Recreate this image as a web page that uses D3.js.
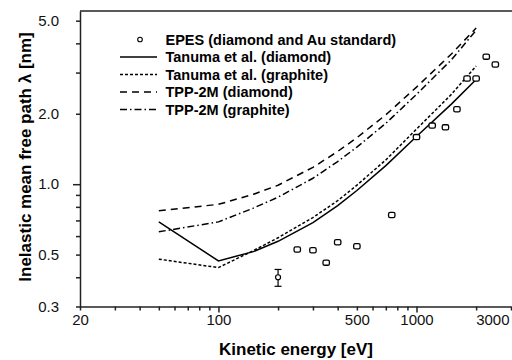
<!DOCTYPE html>
<html>
<head>
<meta charset="utf-8">
<script src="https://cdn.jsdelivr.net/npm/d3@7"></script>
<style>
  body { margin: 0; background: #fff; }
  svg { display: block; font-family: 'Liberation Sans', Arial, Helvetica, sans-serif; }
</style>
</head>
<body>
<div id="chart"></div>
<script>
// data
var curveEnergy = [50, 100, 150, 200, 300, 400, 500, 700, 1000, 1500, 2000];
var tanumaDiamond = [0.69, 0.47, 0.515, 0.57, 0.685, 0.81, 0.94, 1.2, 1.6, 2.2, 2.8];
var tanumaGraphite = [0.478, 0.44, 0.52, 0.59, 0.72, 0.85, 0.99, 1.27, 1.72, 2.42, 3.2];
var tppDiamond = [0.77, 0.82, 0.905, 0.99, 1.18, 1.38, 1.58, 1.98, 2.6, 3.6, 4.65];
var tppGraphite = [0.626, 0.69, 0.79, 0.88, 1.06, 1.25, 1.44, 1.82, 2.42, 3.4, 4.55];

// EPES points (first one is the circle with error bar)
var epesEnergy = [200, 250, 300, 350, 400, 500, 750, 1000, 1200, 1400, 1600, 1800, 2000, 2250, 2500];
var epesImfp = [0.40, 0.526, 0.522, 0.462, 0.565, 0.543, 0.738, 1.59, 1.78, 1.75, 2.09, 2.83, 2.83, 3.51, 3.25];
var epesErrLow = [0.366];
var epesErrHigh = [0.432];

var xTicks = [20, 30, 40, 50, 60, 70, 80, 90, 100, 200, 300, 400, 500, 600, 700, 800, 900, 1000, 2000, 3000];
var xLabels = [20, 100, 500, 1000, 3000];
var yTicks = [0.3, 0.4, 0.5, 0.6, 0.7, 0.8, 0.9, 1, 2, 3, 4, 5];
var yLabels = [0.3, 0.5, 1, 2, 5];

var seriesNames = ['Tanuma et al. (diamond)', 'Tanuma et al. (graphite)', 'TPP-2M (diamond)', 'TPP-2M (graphite)'];
var seriesValues = [tanumaDiamond, tanumaGraphite, tppDiamond, tppGraphite];
var seriesDash = [null, '3,2', '7,5', '7,3,1.5,3'];

var W = 512, H = 360;
var svg = d3.select('#chart').append('svg')
    .attr('width', W)
    .attr('height', H);

var x = d3.scaleLog().domain([20, 3000]).range([80, 511]);
var y = d3.scaleLog().domain([0.3, 5.5]).range([306.5, 11]);

// axes
var x_axis = d3.axisBottom(x)
    .tickValues(xTicks)
    .tickSizeInner(4)
    .tickSizeOuter(0)
    .tickPadding(4)
    .tickFormat(function (d) { return xLabels.indexOf(d) >= 0 ? d : ''; });

var y_axis = d3.axisLeft(y)
    .tickValues(yTicks)
    .tickSizeInner(4)
    .tickSizeOuter(0)
    .tickPadding(17)
    .tickFormat(function (d) { return yLabels.indexOf(d) >= 0 ? d3.format('.1f')(d) : ''; });

var gx = svg.append('g')
    .attr('class', 'x axis')
    .attr('transform', 'translate(0,' + y(0.3) + ')')
    .call(x_axis);

var gy = svg.append('g')
    .attr('class', 'y axis')
    .attr('transform', 'translate(' + x(20) + ',0)')
    .call(y_axis);

svg.selectAll('.axis path, .axis line')
    .attr('stroke', '#222')
    .attr('stroke-width', 1.5);
svg.selectAll('.axis text')
    .attr('fill', '#111')
    .style('font-size', '15px');

// decade ticks a bit longer
gx.selectAll('.tick').filter(function (d) { return d === 100 || d === 1000; })
    .select('line').attr('y2', 6);
gy.selectAll('.tick').filter(function (d) { return d === 1; })
    .select('line').attr('x2', -7);
gx.selectAll('.tick text').attr('y', 8);
gx.selectAll('.tick').filter(function (d) { return d === 3000; })
    .select('text').attr('text-anchor', 'end').attr('x', -2);

// top frame line
svg.append('line')
    .attr('x1', x(20)).attr('x2', W)
    .attr('y1', y.range()[1]).attr('y2', y.range()[1])
    .attr('stroke', '#222')
    .attr('stroke-width', 1.5);

// axis titles
svg.append('text')
    .attr('x', 296)
    .attr('y', 355)
    .attr('text-anchor', 'middle')
    .style('font-size', '17px')
    .style('font-weight', 'bold')
    .text('Kinetic energy [eV]');

svg.append('text')
    .attr('transform', 'translate(31,157) rotate(-90)')
    .attr('text-anchor', 'middle')
    .style('font-size', '17px')
    .style('font-weight', 'bold')
    .text('Inelastic mean free path  \u03bb [nm]');

// curves
var line = d3.line()
    .x(function (d) { return x(d[0]); })
    .y(function (d) { return y(d[1]); });

seriesValues.forEach(function (vals, i) {
    svg.append('path')
        .datum(d3.zip(curveEnergy, vals))
        .attr('d', line)
        .attr('fill', 'none')
        .attr('stroke', '#000')
        .attr('stroke-width', 1.5)
        .attr('stroke-dasharray', seriesDash[i]);
});

// EPES points
var pts = d3.zip(epesEnergy, epesImfp);

svg.append('line')
    .attr('x1', x(pts[0][0])).attr('x2', x(pts[0][0]))
    .attr('y1', y(epesErrLow[0])).attr('y2', y(epesErrHigh[0]))
    .attr('stroke', '#000').attr('stroke-width', 1.2);
[epesErrLow[0], epesErrHigh[0]].forEach(function (v) {
    svg.append('line')
        .attr('x1', x(pts[0][0]) - 3.5).attr('x2', x(pts[0][0]) + 3.5)
        .attr('y1', y(v)).attr('y2', y(v))
        .attr('stroke', '#000').attr('stroke-width', 1.2);
});
svg.append('circle')
    .attr('cx', x(pts[0][0]))
    .attr('cy', y(pts[0][1]))
    .attr('r', 2.5)
    .attr('fill', '#fff')
    .attr('stroke', '#000')
    .attr('stroke-width', 1.2);

svg.selectAll('.pt')
    .data(pts.slice(1))
    .enter()
    .append('rect')
    .attr('class', 'pt')
    .attr('x', function (d) { return x(d[0]) - 3.2; })
    .attr('y', function (d) { return y(d[1]) - 2.6; })
    .attr('width', 6.4)
    .attr('height', 5.2)
    .attr('rx', 1.6)
    .attr('fill', '#fff')
    .attr('stroke', '#000')
    .attr('stroke-width', 1.3);

// legend
var legend = svg.append('g').attr('transform', 'translate(120,39.5)');
var rowH = 17.5;

legend.append('circle')
    .attr('cx', 20).attr('cy', 0).attr('r', 2.3)
    .attr('fill', '#fff').attr('stroke', '#000').attr('stroke-width', 1.1);
legend.append('text')
    .attr('x', 45.5).attr('y', 0).attr('dy', '0.35em')
    .style('font-size', '14.5px').style('font-weight', 'bold')
    .text('EPES (diamond and Au standard)');

seriesNames.forEach(function (name, i) {
    var row = legend.append('g').attr('transform', 'translate(0,' + (rowH * (i + 1)) + ')');
    row.append('line')
        .attr('x1', 0).attr('x2', 37)
        .attr('y1', 0).attr('y2', 0)
        .attr('stroke', '#000')
        .attr('stroke-width', 1.5)
        .attr('stroke-dasharray', seriesDash[i]);
    row.append('text')
        .attr('x', 45.5).attr('y', 0).attr('dy', '0.35em')
        .style('font-size', '14.5px').style('font-weight', 'bold')
        .text(name);
});
</script>
</body>
</html>
